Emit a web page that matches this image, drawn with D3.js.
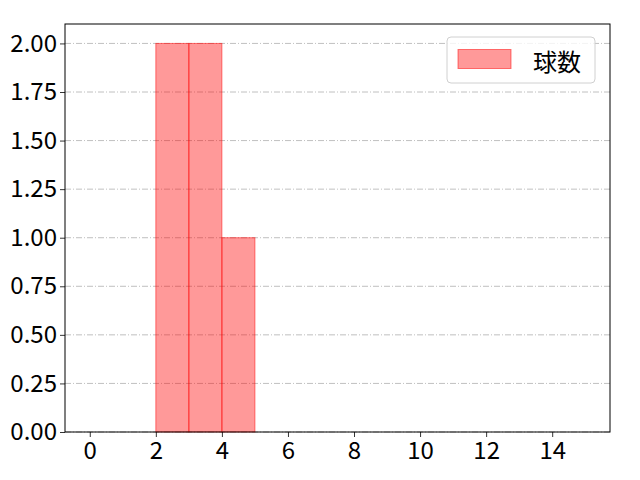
<!DOCTYPE html>
<html><head><meta charset="utf-8">
<script src="https://cdn.jsdelivr.net/npm/d3@7"></script>
<style>body{margin:0;background:#fff}svg{display:block}</style>
</head><body>
<script>
const binStarts = [2, 3, 4];
const binEnds = [3, 4, 5];
const counts = [2, 2, 1];
const xTicks = [0, 2, 4, 6, 8, 10, 12, 14];
const yTicks = [0, 0.25, 0.5, 0.75, 1.0, 1.25, 1.5, 1.75, 2.0];
const seriesName = "球数";

const W = 640, H = 480;
const m = {left: 65, right: 30, top: 24, bottom: 48};
const svg = d3.select("body").append("svg").attr("width", W).attr("height", H);
const font = "'Noto Sans CJK JP', sans-serif";
const x = d3.scaleLinear().domain([-0.75, 15.75]).range([m.left, W - m.right]);
const y = d3.scaleLinear().domain([0, 2.1]).range([H - m.bottom, m.top]);

// grid
svg.append("g").selectAll("line").data(yTicks).join("line")
  .attr("x1", m.left).attr("x2", W - m.right)
  .attr("y1", d => y(d)).attr("y2", d => y(d))
  .attr("stroke", "#b0b0b0").attr("stroke-width", 0.8)
  .attr("stroke-dasharray", "6,2,1,2");

// bars
const bars = binStarts.map((s, i) => ({s, e: binEnds[i], c: counts[i]}));
svg.append("g").selectAll("rect").data(bars).join("rect")
  .attr("x", d => x(d.s)).attr("width", d => x(d.e) - x(d.s))
  .attr("y", d => y(d.c)).attr("height", d => y(0) - y(d.c))
  .attr("fill", "rgba(255,0,0,0.4)").attr("stroke", "rgba(255,0,0,0.5)").attr("stroke-width", 1);

// axes
const xAxis = svg.append("g").attr("transform", `translate(0,${H - m.bottom})`)
  .call(d3.axisBottom(x).tickValues(xTicks).tickFormat(d3.format("d")).tickSizeOuter(0).tickSize(5).tickPadding(5));
const yAxis = svg.append("g").attr("transform", `translate(${m.left},0)`)
  .call(d3.axisLeft(y).tickValues(yTicks).tickFormat(d3.format(".2f")).tickSizeOuter(0).tickSize(5).tickPadding(3));
[xAxis, yAxis].forEach(a => {
  a.select(".domain").remove();
  a.selectAll("line").attr("stroke", "#000").attr("stroke-width", 0.8);
  a.selectAll("text").attr("font-family", font).attr("font-size", 24).attr("fill", "#000");
});

// frame
svg.append("rect").attr("x", m.left).attr("y", m.top)
  .attr("width", W - m.left - m.right).attr("height", H - m.top - m.bottom)
  .attr("fill", "none").attr("stroke", "#000").attr("stroke-width", 1);

// legend
const lg = svg.append("g");
lg.append("rect").attr("x", 447).attr("y", 37).attr("width", 148).attr("height", 46).attr("rx", 4)
  .attr("fill", "rgba(255,255,255,0.8)").attr("stroke", "#d0d0d0").attr("stroke-width", 1);
lg.append("rect").attr("x", 458).attr("y", 49.5).attr("width", 53).attr("height", 19)
  .attr("fill", "rgba(255,0,0,0.4)").attr("stroke", "rgba(255,0,0,0.5)");
lg.append("text").attr("x", 533).attr("y", 60).attr("dominant-baseline", "central")
  .attr("font-family", font).attr("font-size", 24).attr("fill", "#000").text(seriesName);
</script>
</body></html>
